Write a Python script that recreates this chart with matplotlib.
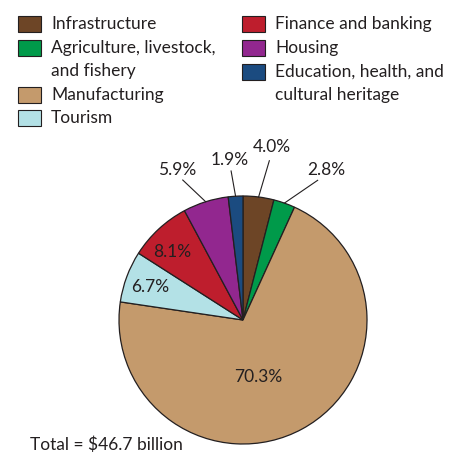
import numpy as np
import matplotlib
matplotlib.use("Agg")
import matplotlib.pyplot as plt
from matplotlib.patches import Rectangle

plt.rcParams["font.family"] = ["Lato", "DejaVu Sans"]

sectors = ["Infrastructure", "Agriculture, livestock,\nand fishery", "Manufacturing",
           "Tourism", "Finance and banking", "Housing",
           "Education, health, and\ncultural heritage"]
shares = [4.0, 2.8, 70.3, 6.7, 8.1, 5.9, 1.9]
pct_labels = ["4.0%", "2.8%", "70.3%", "6.7%", "8.1%", "5.9%", "1.9%"]
colors = ["#6d4526", "#009a4a", "#c49a6c", "#b3e1e6", "#be1e2d", "#92278f", "#1b4b80"]
total_label = "Total = $46.7 billion"

# where each percent label sits (pie radius = 1), and whether it gets a leader line
label_pos = [(0.234, 1.395), (0.669, 1.21), (0.121, -0.460), (-0.75, 0.266),
             (-0.573, 0.548), (-0.532, 1.21), (-0.105, 1.29)]
leader = [True, True, False, False, False, True, True]

fig = plt.figure(figsize=(4.5, 4.53), dpi=100)
ax = fig.add_axes([0.0991, -0.1444, 0.8818, 0.876])
wedges, _ = ax.pie(shares, colors=colors, startangle=90, counterclock=False,
                   wedgeprops=dict(edgecolor="#231f20", linewidth=0.9))
ax.set_xlim(-1.6, 1.6)
ax.set_ylim(-1.6, 1.6)
ax.axis("off")

for w, txt, (tx, ty), ld in zip(wedges, pct_labels, label_pos, leader):
    ax.text(tx, ty, txt, ha="center", va="center", fontsize=12.5, color="#231f20")
    if ld:
        mid = np.deg2rad((w.theta1 + w.theta2) / 2)
        x0, y0 = np.cos(mid), np.sin(mid)
        # stop the line just under the text
        ex = x0 + (tx - x0) * 0.8
        ey = y0 + (ty - y0) * 0.8 - 0.03
        ax.plot([x0, ex], [y0, ey], color="#231f20", lw=0.8)

# legend drawn by hand (two columns, wrapped labels)
leg = [
    (18, 24, 0), (18, 48, 1), (18, 95, 2), (18, 118, 3),
    (242, 24, 4), (242, 48, 5), (242, 72, 6),
]
W, H = 450, 453
for x, y, i in leg:
    fig.add_artist(Rectangle((x / W, 1 - (y + 8) / H), 23 / W, 16 / H,
                             facecolor=colors[i], edgecolor="#231f20", lw=0.8,
                             transform=fig.transFigure))
    for k, line in enumerate(sectors[i].split("\n")):
        fig.text((x + 33) / W, 1 - (y + 23 * k) / H, line, ha="left", va="center",
                 fontsize=12.5, color="#231f20")

fig.text(30 / W, 1 - 445 / H, total_label, ha="left", va="center", fontsize=12.5, color="#231f20")

fig.savefig("out.png", dpi=100)
